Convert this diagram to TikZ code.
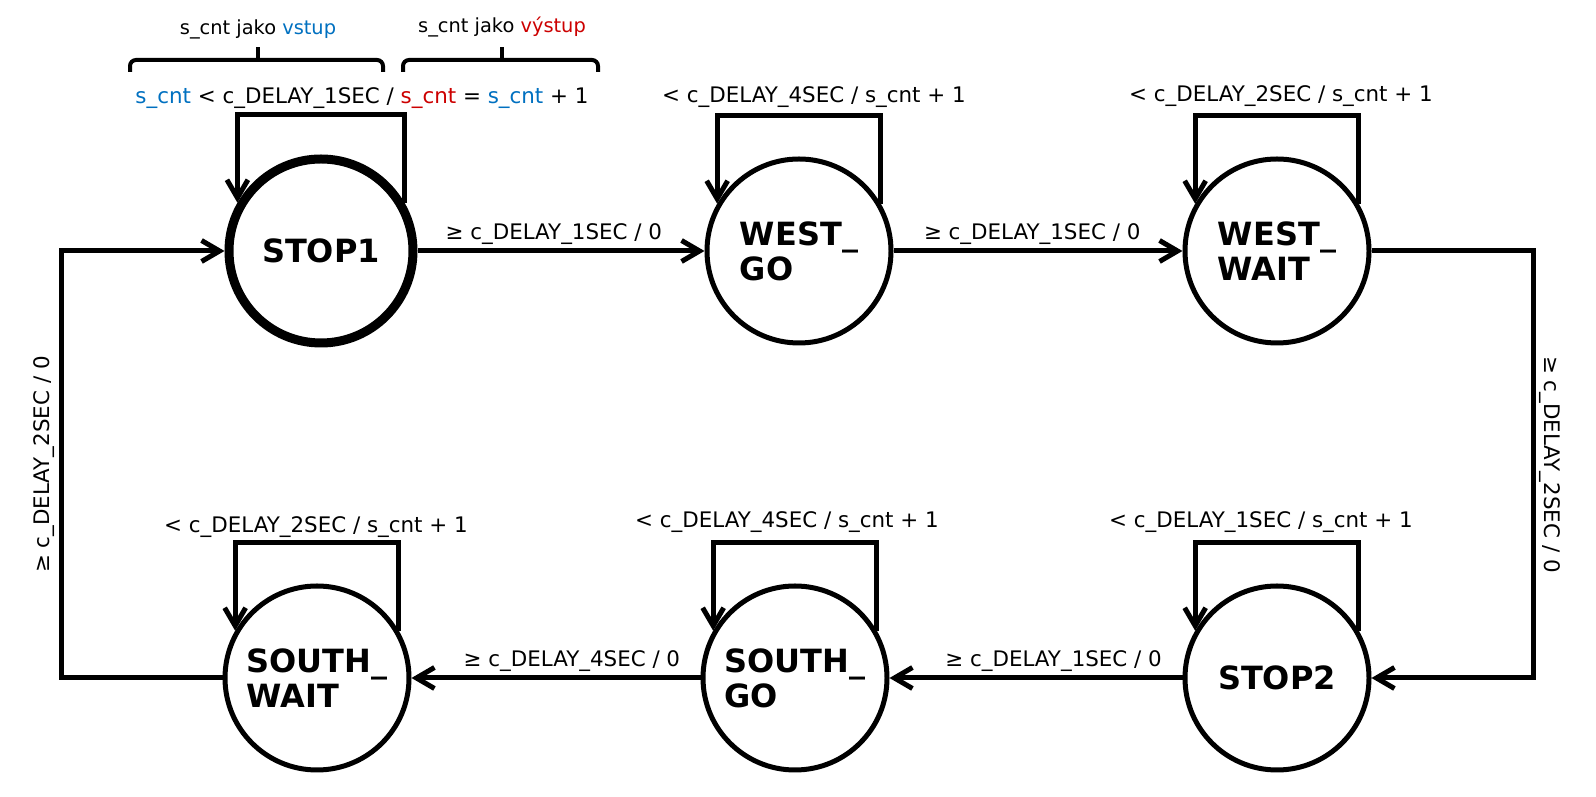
\documentclass[tikz,border=0pt]{standalone}
\usepackage{fontspec}
\setmainfont{DejaVu Sans}
\usetikzlibrary{arrows.meta}
\definecolor{inblue}{HTML}{0070C0}
\definecolor{outred}{HTML}{CC0000}
\tikzset{
  state/.style={circle, draw, line width=2.5pt, minimum size=92pt, inner sep=0pt,
    align=left, font=\fontsize{16}{17.5}\selectfont\bfseries},
  startstate/.style={state, line width=4.5pt},
  trans/.style={line width=2.5pt, -{Straight Barb[length=9pt,width=10.5pt]}},
  lbl/.style={font=\fontsize{10.7}{12}\selectfont, inner sep=2pt},
  note/.style={font=\fontsize{9.7}{11}\selectfont, inner sep=0pt},
  brace/.style={line width=2pt, rounded corners=3pt},
}
\begin{document}
\begin{tikzpicture}[x=0.5pt, y=0.5pt]
\useasboundingbox (0,0) rectangle (1596,797);

% states
\node[startstate] (stop1) at (321,546) {STOP1};
\node[state] (westgo) at (799,546) {WEST\_\\GO};
\node[state] (westwait) at (1277,546) {WEST\_\\WAIT};
\node[state] (stop2) at (1277,119) {STOP2};
\node[state] (southgo) at (795,119) {SOUTH\_\\GO};
\node[state] (southwait) at (317,119) {SOUTH\_\\WAIT};

% self loops
\foreach \s in {stop1,westgo,westwait,stop2,southgo,southwait}{
	\draw[trans] (\s.30) -- ++(0,88) -| (\s.150);
}

\node[lbl, anchor=base] (lstop1) at (362,693) {\textcolor{inblue}{s\_cnt} < c\_DELAY\_1SEC / \textcolor{outred}{s\_cnt} = \textcolor{inblue}{s\_cnt} + 1};
\node[lbl, anchor=base] (lwestgo) at (814,694) {< c\_DELAY\_4SEC / s\_cnt + 1};
\node[lbl, anchor=base] (lwestwait) at (1281,695) {< c\_DELAY\_2SEC / s\_cnt + 1};
\node[lbl, anchor=base] (lstop2) at (1261,269) {< c\_DELAY\_1SEC / s\_cnt + 1};
\node[lbl, anchor=base] (lsouthgo) at (787,269) {< c\_DELAY\_4SEC / s\_cnt + 1};
\node[lbl, anchor=base] (lsouthwait) at (316,264) {< c\_DELAY\_2SEC / s\_cnt + 1};

% transitions
\draw[trans] (stop1) -- node[lbl, above, pos=0.475]{≥ c\_DELAY\_1SEC / 0} (westgo);
\draw[trans] (westgo) -- node[lbl, above, pos=0.48]{≥ c\_DELAY\_1SEC / 0} (westwait);
\draw[trans] (stop2) -- node[lbl, above, pos=0.44]{≥ c\_DELAY\_1SEC / 0} (southgo);
\draw[trans] (southgo) -- node[lbl, above, pos=0.445]{≥ c\_DELAY\_4SEC / 0} (southwait);

\coordinate (rtop) at (1533,546);
\coordinate (rbot) at (1533,119);
\draw[trans] (westwait) -- (rtop) -- node[lbl, rotate=-90, anchor=south]{≥ c\_DELAY\_2SEC / 0} (rbot) -- (stop2);

\coordinate (lbot) at (61,119);
\coordinate (ltop) at (61,546);
\draw[trans] (southwait) -- (lbot) -- node[lbl, rotate=90, anchor=south]{≥ c\_DELAY\_2SEC / 0} (ltop) -- (stop1);

% input / output braces
\draw[brace] (130,725) -- (130,737) -- (383,737) -- (383,725);
\draw[brace] (258,737) -- (258,750);
\draw[brace] (403,725) -- (403,737) -- (598,737) -- (598,725);
\draw[brace] (502,737) -- (502,750);
\node[note, anchor=base] (invlbl) at (258,762) {s\_cnt jako \textcolor{inblue}{vstup}};
\node[note, anchor=base] (outlbl) at (502,764) {s\_cnt jako \textcolor{outred}{výstup}};
\end{tikzpicture}
\end{document}
